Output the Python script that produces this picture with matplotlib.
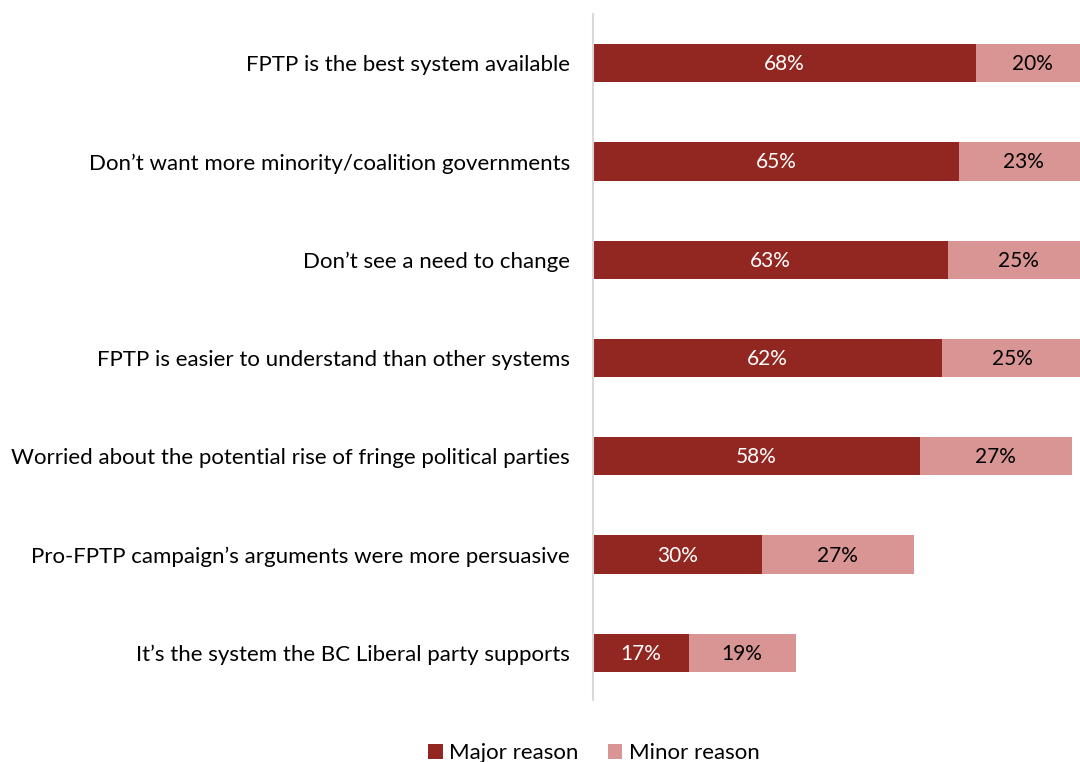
import matplotlib
matplotlib.use("Agg")
import matplotlib.pyplot as plt

plt.rcParams['font.family'] = ['Lato', 'DejaVu Sans']

categories = [
    "FPTP is the best system available",
    "Don\u2019t want more minority/coalition governments",
    "Don\u2019t see a need to change",
    "FPTP is easier to understand than other systems",
    "Worried about the potential rise of fringe political parties",
    "Pro-FPTP campaign\u2019s arguments were more persuasive",
    "It\u2019s the system the BC Liberal party supports",
]
major = [68, 65, 63, 62, 58, 30, 17]
minor = [20, 23, 25, 25, 27, 27, 19]
series_names = ["Major reason", "Minor reason"]

major_color = "#922620"
minor_color = "#D99594"

fig = plt.figure(figsize=(10.8, 7.62), dpi=100)
ax = fig.add_axes([593 / 1080, 1 - 700 / 762, 1 - 593 / 1080, (700 - 14) / 762])

y = list(range(len(categories)))
h = 0.39
b1 = ax.barh(y, major, height=h, color=major_color, label=series_names[0])
b2 = ax.barh(y, minor, left=major, height=h, color=minor_color, label=series_names[1])

for i, (a, b) in enumerate(zip(major, minor)):
    ax.text(a / 2, i + 0.01, f"{a}%", ha="center", va="center", color="white", fontsize=15)
    ax.text(a + b / 2, i + 0.01, f"{b}%", ha="center", va="center", color="black", fontsize=15)

ax.set_xlim(0, 86.5)
ax.set_ylim(6.48, -0.5)
ax.set_yticks(y)
ax.set_yticklabels(categories, fontsize=16)
ax.tick_params(axis="y", length=0, pad=16.5)
ax.set_xticks([])
for s in ["top", "right", "bottom"]:
    ax.spines[s].set_visible(False)
ax.spines["left"].set_color("#D9D9D9")
ax.spines["left"].set_linewidth(1.5)

fig.legend(handles=[b1, b2], labels=series_names, loc="center",
           bbox_to_anchor=(594 / 1080, 1 - 753 / 762), ncol=2, frameon=False,
           fontsize=16, handlelength=0.65, handleheight=0.65, handletextpad=0.3,
           columnspacing=1.3)

fig.savefig("out.png", dpi=100)
